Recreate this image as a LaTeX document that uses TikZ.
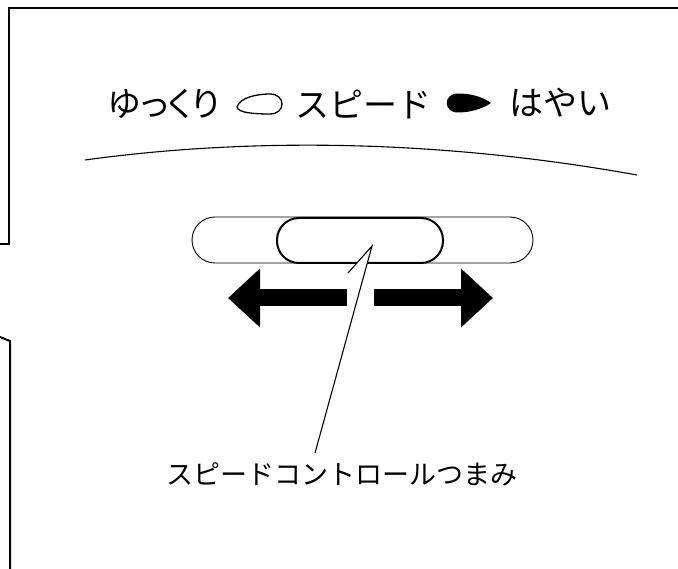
\documentclass[tikz,border=0pt]{standalone}
\usepackage{fontspec}
\newfontfamily\jpfont{Noto Sans CJK JP}
\newfontfamily\jpprop[RawFeature=+palt]{Noto Sans CJK JP}
\usetikzlibrary{arrows.meta,positioning}

\begin{document}
\begin{tikzpicture}[
  x=1pt, y=-1pt,
  frame/.style={line width=2pt},
  title/.style={font=\jpfont\fontsize{34}{38}\selectfont, inner sep=0pt},
  caption/.style={font=\jpfont\fontsize{27}{30}\selectfont, inner sep=0pt},
  track/.style={draw, line width=0.9pt, rounded corners=23pt, minimum width=341pt, minimum height=46pt, inner sep=0pt},
  knob/.style={draw, fill=white, line width=2pt, rounded corners=22pt, minimum width=166pt, minimum height=45pt, inner sep=0pt},
  slide/.style={line width=17pt, -{Triangle[length=32pt, width=57pt]}},
  leader/.style={line width=1.1pt}
]
\useasboundingbox (0,0) rectangle (678,569);

% panel edge
\draw[frame] (0,244) -- (9,244) -- (9,8) -- (678,8);
\draw[frame] (0,337) -- (10,341) -- (10,569);

% speed scale
\node[title, font=\jpprop\fontsize{34}{38}\selectfont] (slow) at (164,104) {ゆっくり};
\node[title] (speed) at (363,104) {スピード};
\node[title] (fast) at (560,103) {はやい};
\draw[line width=1.3pt] (237,107) .. controls (240,97) and (258,94) .. (270,94)
  .. controls (286,94) and (286,114) .. (270,114)
  .. controls (255,114) and (238,113) .. cycle;
\fill (491,103) .. controls (481,96) and (470,93.5) .. (458,93.5)
  .. controls (443,93.5) and (443,112.5) .. (458,112.5)
  .. controls (470,112.5) and (482,109) .. cycle;
\draw[line width=1.1pt] (85,160) .. controls (230,140) and (420,136) .. (637,175);

% slider
\node[track] (slot) at (362.5,240) {};
\node[knob] (knob) at (360,240.5) {};

% leader
\coordinate (pick) at (372,246);
\coordinate (stub) at (348,273);
\coordinate (pickend) at (315,453);
\fill[white] (pick) -- (stub) -- (364.6,273) -- cycle;
\draw[leader] (stub) -- (pick) -- (pickend);
\node[caption] (knoblabel) at (342,474) {スピードコントロールつまみ};

% directions
\coordinate (lfrom) at (347,298);
\coordinate (lto) at (228,298);
\coordinate (rfrom) at (374,298);
\coordinate (rto) at (493,298);
\draw[slide] (lfrom) -- (lto);
\draw[slide] (rfrom) -- (rto);
\end{tikzpicture}
\end{document}
